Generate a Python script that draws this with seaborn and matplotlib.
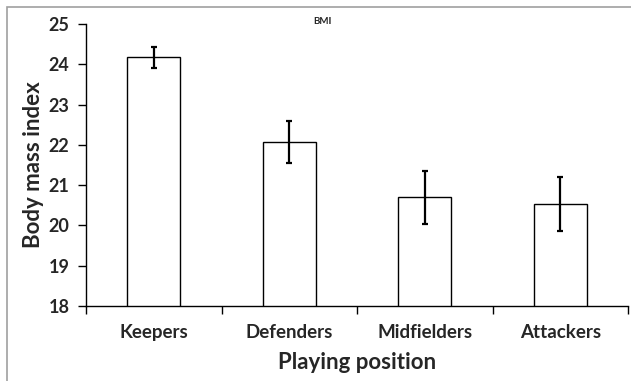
import matplotlib
matplotlib.use("Agg")
import matplotlib.pyplot as plt
import seaborn as sns
import pandas as pd
from matplotlib.patches import Rectangle

positions = ["Keepers", "Defenders", "Midfielders", "Attackers"]
bmi_mean = [24.17, 22.08, 20.70, 20.53]
bmi_err = [0.27, 0.52, 0.66, 0.68]
y_ticks = [18, 19, 20, 21, 22, 23, 24, 25]

df = pd.DataFrame({"position": positions, "bmi": bmi_mean})

sns.set_theme(style="white")
plt.rcParams["font.family"] = ["Lato", "DejaVu Sans"]

fig = plt.figure(figsize=(6.31, 3.81), dpi=100)
ax = fig.add_axes([86 / 631, 1 - 306 / 381, (628 - 86) / 631, (306 - 24) / 381])

sns.barplot(data=df, x="position", y="bmi", ax=ax, color="white",
            edgecolor="black", linewidth=1.0, width=0.39, errorbar=None,
            saturation=1)
ax.errorbar(range(len(positions)), bmi_mean, yerr=bmi_err, fmt="none",
            ecolor="black", elinewidth=1.6, capsize=2.5, capthick=1.6)

ax.set_ylim(18, 25)
ax.set_xlim(-0.5, len(positions) - 0.5)
ax.set_yticks(y_ticks)
ax.set_yticklabels([str(t) for t in y_ticks], fontsize=13, fontweight="bold")
ax.set_xticks(range(len(positions)))
ax.set_xticklabels(positions, fontsize=13.5, fontweight="bold")
ax.set_xticks([i - 0.5 for i in range(len(positions) + 1)], minor=True)
ax.tick_params(axis="x", which="major", length=0, pad=13)
ax.tick_params(axis="x", which="minor", length=6, width=1, color="black",
               direction="out", bottom=True)
ax.tick_params(axis="y", which="major", length=6, width=1, color="black",
               direction="out", left=True, pad=6)

for s in ["top", "right"]:
    ax.spines[s].set_visible(False)
for s in ["left", "bottom"]:
    ax.spines[s].set_color("black")
    ax.spines[s].set_linewidth(1.0)

ax.set_xlabel("Playing position", fontsize=16, fontweight="bold", labelpad=8)
ax.set_ylabel("Body mass index", fontsize=16, fontweight="bold", labelpad=3)
ax.set_title("BMI", fontsize=7, fontweight="bold", x=(322 - 86) / (628 - 86), y=0.97)

fig.patches.append(Rectangle((7 / 631, -0.1), 1.2, 1 - 7 / 381 + 0.1,
                             transform=fig.transFigure, fill=False,
                             edgecolor="#a0a0a0", linewidth=1.2, zorder=-1))

fig.savefig("out.png", dpi=100)
